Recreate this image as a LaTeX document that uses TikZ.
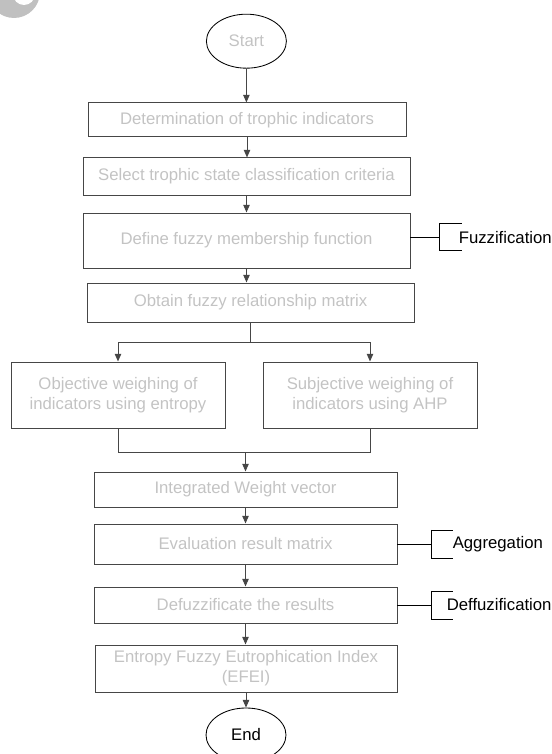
\documentclass[tikz,border=0pt]{standalone}
\usepackage{fontspec}
\setmainfont{Liberation Sans}
\usepackage{xcolor}
\usepackage{tikz}
\usetikzlibrary{positioning,arrows.meta,shapes.geometric,calc}

\definecolor{boxline}{RGB}{70,70,70}
\definecolor{boxtext}{RGB}{195,195,195}
\definecolor{markgray}{RGB}{192,192,192}

\begin{document}
\begin{tikzpicture}[
    x=1cm, y=1cm, >={Triangle[length=5.5pt,width=4.6pt]},
    font=\fontsize{11.9}{14.2}\selectfont,
    terminal/.style={draw=black, ellipse, line width=0.6pt,
      minimum width=2.0cm, minimum height=1.35cm, inner sep=0pt},
    procbox/.style={draw=boxline, rectangle, line width=0.7pt,
      align=center, text=boxtext, inner sep=2pt},
    note/.style={inner sep=0pt, text=black},
    arr/.style={->, line width=0.7pt, draw=boxline},
    link/.style={line width=0.7pt, draw=boxline},
    brk/.style={line width=0.7pt, draw=black}
]
\useasboundingbox (0,0) rectangle (13.8,18.85);
% corner mark
\fill[markgray] (0.35,19.05) circle (0.65);
\fill[white] (0.6,19.0) circle (0.275);

\node[terminal, text=boxtext] (start) at (6.16,17.82) {Start};
\node[procbox, minimum width=7.95cm, minimum height=0.85cm] (determ)
  at (6.175,15.85) {Determination of trophic indicators};
\node[procbox, minimum width=8.175cm, minimum height=0.925cm] (select)
  at (6.1625,14.4375) {Select trophic state classification criteria};
\node[procbox, minimum width=8.175cm, minimum height=1.375cm] (member)
  at (6.1625,12.8375) {Define fuzzy membership function};
\node[procbox, minimum width=8.175cm, minimum height=0.975cm] (relmat)
  at (6.2625,11.2875) {Obtain fuzzy relationship matrix};
\node[procbox, minimum width=5.35cm, minimum height=1.65cm] (objw)
  at (2.95,8.975) {Objective weighing of\\indicators using entropy};
\node[procbox, minimum width=5.35cm, minimum height=1.65cm] (subw)
  at (9.25,8.975) {Subjective weighing of\\indicators using AHP};
\node[procbox, minimum width=7.575cm, minimum height=0.875cm] (intw)
  at (6.1375,6.6125) {Integrated Weight vector};
\node[procbox, minimum width=7.575cm, minimum height=1.0cm] (evalm)
  at (6.1375,5.25) {Evaluation result matrix};
\node[procbox, minimum width=7.575cm, minimum height=0.9cm] (defuz)
  at (6.1375,3.725) {Defuzzificate the results};
\node[procbox, minimum width=7.55cm, minimum height=1.175cm] (efei)
  at (6.15,2.1375) {Entropy Fuzzy Eutrophication Index\\(EFEI)};
\node[terminal] (end) at (6.15,0.475) {End};

% main flow
\draw[arr] (start) -- (start |- determ.north);
\draw[arr] (determ.south) -- (determ.south |- select.north);
\draw[arr] (select.south) -- (select.south |- member.north);
\draw[arr] (member.south) -- (member.south |- relmat.north);

% split and merge
\coordinate (split) at ($(relmat.south)+(0,-0.5)$);
\draw[link] (relmat.south) -- (split);
\draw[arr] (split) -| (objw.north);
\draw[arr] (split) -| (subw.north);
\coordinate (merge) at ($(intw.north)+(0,0.475)$);
\draw[link] (objw.south) |- (merge) -| (subw.south);
\draw[arr] (merge) -- (intw.north);

\draw[arr] (intw.south) -- (intw.south |- evalm.north);
\draw[arr] (evalm.south) -- (evalm.south |- defuz.north);
\draw[arr] (defuz.south) -- (defuz.south |- efei.north);
\draw[arr] (efei.south) -- (efei.south |- end.north);

% stage brackets
\node[note, right=1.2cm of member, yshift=0.08cm] (fuzz) {Fuzzification};
\node[note, right=1.375cm of evalm] (aggr) {Aggregation};
\node[note, right=1.225cm of defuz] (dfuz) {Deffuzification};
\draw[brk] ([yshift=0.08cm]member.east) -- ++(0.725,0) coordinate (fzk);
\draw[brk] ([yshift=0.34cm]fzk) -- ++(0,-0.68);
\draw[brk] ([yshift=0.34cm]fzk) -- ++(0.575,0);
\draw[brk] ([yshift=-0.34cm]fzk) -- ++(0.575,0);
\foreach \bx/\k in {evalm/agk, defuz/dfk}{
  \draw[brk] (\bx.east) -- ++(0.84,0) coordinate (\k);
  \draw[brk] ([yshift=0.35cm]\k) -- ++(0,-0.7);
  \draw[brk] ([yshift=0.35cm]\k) -- ++(0.56,0);
  \draw[brk] ([yshift=-0.35cm]\k) -- ++(0.56,0);
}
\end{tikzpicture}
\end{document}
